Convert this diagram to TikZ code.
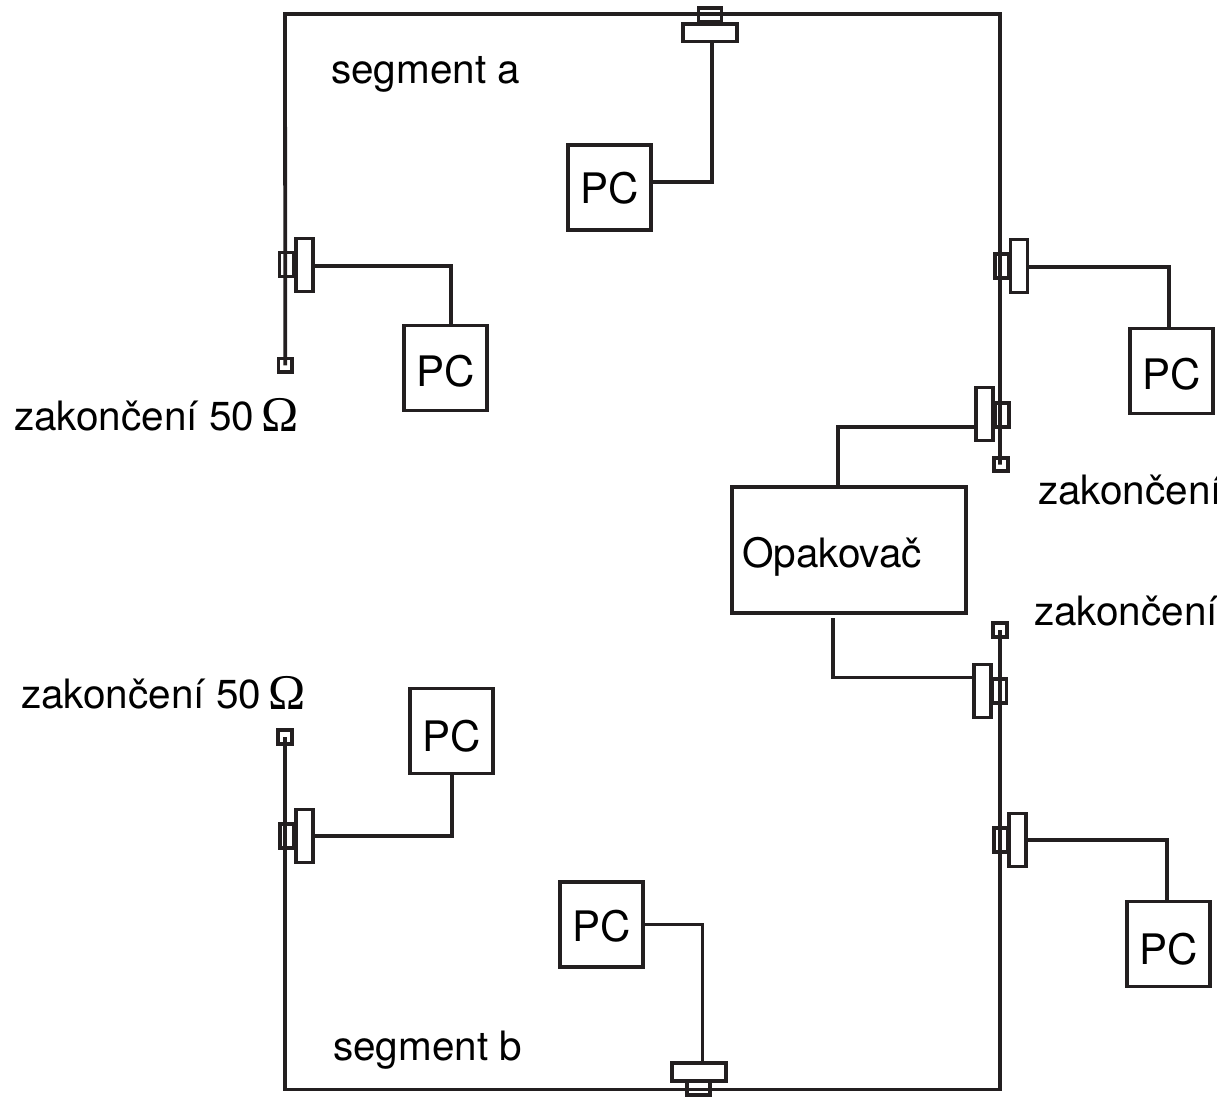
\documentclass[tikz,border=0pt]{standalone}
\usepackage{fontspec}
\setmainfont{TeX Gyre Heros}
\newfontfamily\omegafont{Liberation Serif}
\usetikzlibrary{calc}
\definecolor{ink}{HTML}{231F20}
\tikzset{
  x=1pt,y=-1pt,
  wire/.style={draw=ink,line width=3.8pt,line join=miter},
  part/.style={draw=ink,line width=3.8pt,inner sep=0pt,outer sep=0pt,minimum width=#1},
  pcbox/.style={part=83pt,minimum height=85pt,font=\fontsize{42}{42}\selectfont,text=black},
  hwide/.style={part=53.5pt,minimum height=17.5pt,fill=white},
  hnarrow/.style={part=23pt,minimum height=14.5pt},
  vwide/.style={part=17pt,minimum height=53pt,fill=white},
  vnarrow/.style={part=14pt,minimum height=24pt},
  term/.style={part=13.5pt,minimum height=13.5pt},
  lab/.style={anchor=base west,inner sep=0pt,font=\fontsize{40.5}{40.5}\selectfont,text=black},
}
\newcommand{\ohm}{{\fontsize{50}{50}\omegafont\raisebox{-1pt}{\char"03A9}}}
\newcommand{\pclab}[1]{\raisebox{\dimexpr -15.3pt-#1pt\relax}[0pt][0pt]{PC}}
\begin{document}
\begin{tikzpicture}
\useasboundingbox (0,0) rectangle (1226,1097);
\fill[white] (0,0) rectangle (1226,1097);
\begin{scope}
\clip (0,0) rectangle (1216,1097);
% terminators
\node[term] (t1) at (285.3,365.3) {};
\node[term] (t2) at (1001,464.5) {};
\node[term] (t3) at (1000,630) {};
\node[term] (t4) at (285,737) {};
\coordinate (c1) at (285,14);
\coordinate (c2) at (1000,14);
\coordinate (c3) at (285,1089.5);
\coordinate (c4) at (1000,1089.5);
% buses
\draw[wire] (t1.center) -- (c1) -- (c2) -- (1000,464.5);
\draw[wire] (t4.center) -- (c3) -- (c4) -- (1000,630);
% narrow parts of the taps
\node[hnarrow] (n1) at (710,15) {};
\node[vnarrow] (n2) at (286.4,264.5) {};
\node[vnarrow] (n3) at (1002,266) {};
\node[vnarrow] (n4) at (1002,414.7) {};
\node[vnarrow] (n5) at (999.5,691) {};
\node[vnarrow] (n6) at (287,836) {};
\node[vnarrow] (n7) at (1001,840) {};
\node[hnarrow] (n8) at (698.3,1088) {};
% wide parts of the taps
\node[hwide] (w1) at (710,32.8) {};
\node[vwide] (w2) at (304.3,265) {};
\node[vwide] (w3) at (1019,266) {};
\node[vwide] (w4) at (984.5,414) {};
\node[vwide] (w5) at (982.5,691) {};
\node[vwide] (w6) at (304.5,836) {};
\node[vwide] (w7) at (1017.5,840) {};
\node[hwide] (w8) at (699,1072) {};
% computers
\node[pcbox] (p1) at (609.5,187.5) {\pclab{1}};
\node[pcbox] (p2) at (445.5,368) {\pclab{3}};
\node[pcbox] (p3) at (1171.5,371) {\pclab{3}};
\node[pcbox] (p4) at (451.5,731) {\pclab{5}};
\node[pcbox] (p5) at (1168.5,944) {\pclab{5}};
\node[pcbox] (p6) at (601.5,924.5) {\pclab{1.5}};
% repeater
\node[part=234pt,minimum height=126pt] (r) at (849,550) {};
\node[lab] (rl) at (742,567.5) {Opakovač};
\coordinate (rb) at (833,618);
% connectors
\draw[wire] ([xshift=2pt]w1.south) |- ([yshift=5.5pt]p1.east);
\draw[wire] ([yshift=-1pt]w2.east) -| ([xshift=5.5pt]p2.north);
\draw[wire] ([yshift=-1pt]w3.east) -| ([xshift=-2.5pt]p3.north);
\draw[wire] ([yshift=-13pt]w4.west) -| ([xshift=-11pt]r.north);
\draw[wire] ([yshift=13.5pt]w5.west) -| (rb);
\draw[wire] (w6.east) -| ([xshift=.5pt]p4.south);
\draw[wire] (w7.east) -| ([xshift=-1.5pt]p5.north);
\draw[wire] (p6.east) -| ([xshift=3.5pt]w8.north);
% labels
\node[lab] (l1) at (331,84) {segment a};
\node[lab] (l2) at (333,1060) {segment b};
\node[lab] (l3) at (14,430) {zakončení 50\,\ohm};
\node[lab] (l4) at (21,708) {zakončení 50\,\ohm};
\node[lab] (l5) at (1038,504) {zakončení};
\node[lab] (l6) at (1034,625) {zakončení};
\end{scope}
\end{tikzpicture}
\end{document}
